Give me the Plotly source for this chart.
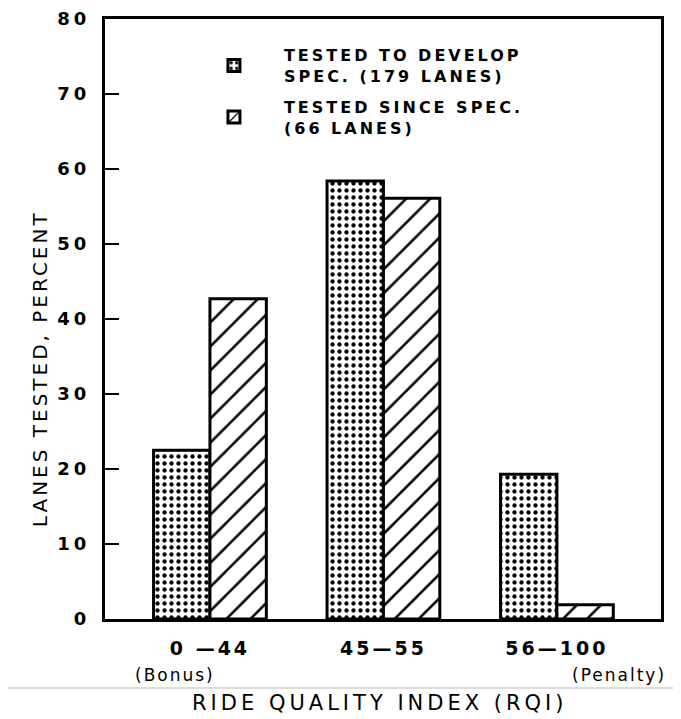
import plotly.graph_objects as go

categories = ["0 —44", "45—55", "56—100"]
develop_pct = [22.5, 58.4, 19.3]
since_pct = [42.7, 56.1, 1.9]
series_names = ["TESTED TO DEVELOP<br>SPEC. (179 LANES)", "TESTED SINCE SPEC.<br>(66 LANES)"]
y_ticks = [0, 10, 20, 30, 40, 50, 60, 70, 80]

FONT = "DejaVu Sans"


def spaced(t, px):
    return '<span style="letter-spacing:%dpx">%s</span>' % (px, t)


fig = go.Figure()
fig.add_trace(go.Bar(
    x=categories, y=develop_pct, name=spaced(series_names[0], 3), legendgroup="a",
    marker=dict(color="white", line=dict(color="black", width=3),
                pattern=dict(shape=".", size=7, solidity=0.3, fgcolor="black",
                             fgopacity=1, bgcolor="white", fillmode="overlay")),
))
fig.add_trace(go.Bar(
    x=categories, y=since_pct, name=spaced(series_names[1], 3), legendgroup="b",
    marker=dict(color="white", line=dict(color="black", width=3),
                pattern=dict(shape="/", size=17, solidity=0.15, fgcolor="black",
                             fgopacity=1, bgcolor="white", fillmode="overlay")),
))

fig.update_layout(
    width=681, height=719,
    margin=dict(l=97, r=28, t=11, b=108),
    paper_bgcolor="white", plot_bgcolor="white",
    barmode="group", bargap=0.35, bargroupgap=0,
    font=dict(family=FONT, color="black"),
    showlegend=True,
    legend=dict(x=0.142, y=0.968, xanchor="left", yanchor="top",
                bgcolor="rgba(0,0,0,0)", font=dict(size=16, family=FONT, weight="bold"),
                traceorder="grouped", tracegroupgap=7, itemwidth=90),
)
fig.update_xaxes(
    type="category", range=[-0.605, 2.6], automargin=False,
    tickvals=categories, ticktext=[spaced(c, 3) for c in categories],
    showline=True, linecolor="black", linewidth=3, mirror=True,
    ticks="", showgrid=False,
    tickfont=dict(size=19, family=FONT, weight="bold"),
    ticklabelstandoff=10, ticklabeloverflow="allow",
)
fig.update_yaxes(
    range=[0, 80], automargin=False,
    tickvals=y_ticks, ticktext=[spaced(str(v), 4) for v in y_ticks],
    showline=True, linecolor="black", linewidth=3, mirror=True,
    ticks="inside", ticklen=14, tickwidth=2, tickcolor="black",
    showgrid=False, zeroline=False,
    tickfont=dict(size=18, family=FONT, weight="bold"),
    ticklabelstandoff=8, ticklabeloverflow="allow",
)

common = dict(xref="paper", yref="paper", showarrow=False, xanchor="center", yanchor="middle")
fig.add_annotation(text=spaced("LANES TESTED, PERCENT", 3), x=-0.117, y=0.418,
                   textangle=-90, font=dict(size=20, family=FONT), **common)
fig.add_annotation(text=spaced("RIDE QUALITY INDEX (RQI)", 4), x=0.495, y=-0.14,
                   font=dict(size=21, family=FONT), **common)
fig.add_annotation(text=spaced("(Bonus)", 2), x=0.126, y=-0.093,
                   font=dict(size=17, family=FONT), **common)
fig.add_annotation(text=spaced("(Penalty)", 2), x=0.925, y=-0.093,
                   font=dict(size=17, family=FONT), **common)
fig.add_shape(type="line", xref="paper", yref="paper", x0=-0.19, x1=1.04,
              y0=-0.115, y1=-0.115, line=dict(color="#bbbbbb", width=1))

fig.write_html("out.html")
